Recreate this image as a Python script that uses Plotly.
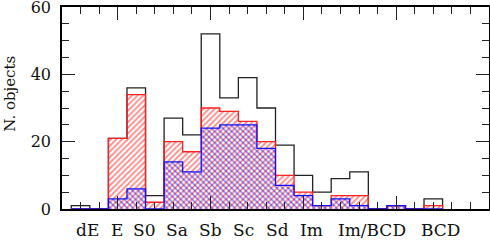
import plotly.graph_objects as go

# bin centres (numerical morphological type axis)
bin_t = [-7, -6, -5, -4, -3, -2, -1, 0, 1, 2, 3, 4, 5, 6, 7, 8, 9, 10, 11, 12]
total = [1, 0, 21, 36, 4, 27, 22, 52, 33, 39, 30, 19, 10, 5, 9, 11, 0, 1, 0, 3]
red_sub = [0, 0, 21, 34, 2, 20, 17, 30, 29, 26, 20, 10, 5, 1, 4, 4, 0, 1, 0, 1]
blue_sub = [0, 0, 3, 6, 0, 14, 11, 24, 25, 25, 18, 7, 4, 1, 3, 1, 0, 1, 0, 0]

type_labels = ["dE", "E", "S0", "Sa", "Sb", "Sc", "Sd", "Im", "Im/BCD", "BCD"]
label_pos = [-6.6, -5.05, -3.6, -1.8, 0.0, 1.8, 3.6, 5.45, 8.7, 12.4]

FONT = "DejaVu Serif"


def step_xy(centres, vals):
    xs = [centres[0] - 0.5] + [c - 0.5 for c in centres] + [centres[-1] + 0.5]
    ys = [0] + list(vals) + [0]
    return xs, ys


fig = go.Figure()

# hatched fills
fig.add_trace(go.Bar(
    x=bin_t, y=red_sub, width=1,
    marker=dict(color="rgba(0,0,0,0)", line=dict(width=0),
                pattern=dict(shape="/", fgcolor="#ff0000", bgcolor="rgba(0,0,0,0)",
                             size=4, solidity=0.4, fillmode="overlay")),
    showlegend=False, hoverinfo="skip"))
fig.add_trace(go.Bar(
    x=bin_t, y=blue_sub, width=1,
    marker=dict(color="rgba(0,0,0,0)", line=dict(width=0),
                pattern=dict(shape="\\", fgcolor="#0000ff", bgcolor="rgba(0,0,0,0)",
                             size=4, solidity=0.35, fillmode="overlay")),
    showlegend=False, hoverinfo="skip"))

# step outlines
for vals, col in [(total, "#222222"), (red_sub, "#ff2020"), (blue_sub, "#1010ff")]:
    xs, ys = step_xy(bin_t, vals)
    fig.add_trace(go.Scatter(x=xs, y=ys, mode="lines", line=dict(color=col, width=1.3, shape="hv"),
                             showlegend=False, hoverinfo="skip", cliponaxis=True))

for lab, pos in zip(type_labels, label_pos):
    fig.add_annotation(x=pos, y=-0.102, xref="x", yref="paper", text=lab, showarrow=False,
                       xanchor="center", yanchor="middle",
                       font=dict(family=FONT, size=17, color="#111111"))

fig.add_annotation(x=-0.122, y=0.57, xref="paper", yref="paper", text="N. objects",
                   textangle=-90, showarrow=False, xanchor="center", yanchor="middle",
                   font=dict(family=FONT, size=15, color="#111111"))

fig.update_layout(
    width=490, height=240,
    margin=dict(l=62, r=1, t=7, b=31, autoexpand=False),
    paper_bgcolor="white", plot_bgcolor="white",
    barmode="overlay", bargap=0,
    font=dict(family=FONT, size=16, color="#111111"),
)
fig.update_xaxes(range=[-8, 15], showgrid=False, zeroline=False, showticklabels=False,
                 automargin=False,
                 showline=True, linecolor="black", linewidth=1.5, mirror="allticks",
                 ticks="inside", tick0=0, dtick=5, ticklen=13, tickwidth=1, tickcolor="#222222",
                 minor=dict(ticks="inside", dtick=1, ticklen=7, tickwidth=1, tickcolor="#222222"))
fig.update_yaxes(range=[0, 60], showgrid=False, zeroline=False, automargin=False,
                 showline=True, linecolor="black", linewidth=1.5, mirror="allticks",
                 ticks="inside", tick0=0, dtick=20, ticklen=13, tickwidth=1, tickcolor="#222222",
                 ticklabelstandoff=6, ticklabeloverflow="allow",
                 minor=dict(ticks="inside", dtick=5, ticklen=7, tickwidth=1, tickcolor="#222222"),
                 tickfont=dict(family=FONT, size=16, color="#111111"))

fig.write_html("out.html", config={"displayModeBar": False},
               post_script="document.body.style.margin='0px';document.body.style.overflow='hidden';")
